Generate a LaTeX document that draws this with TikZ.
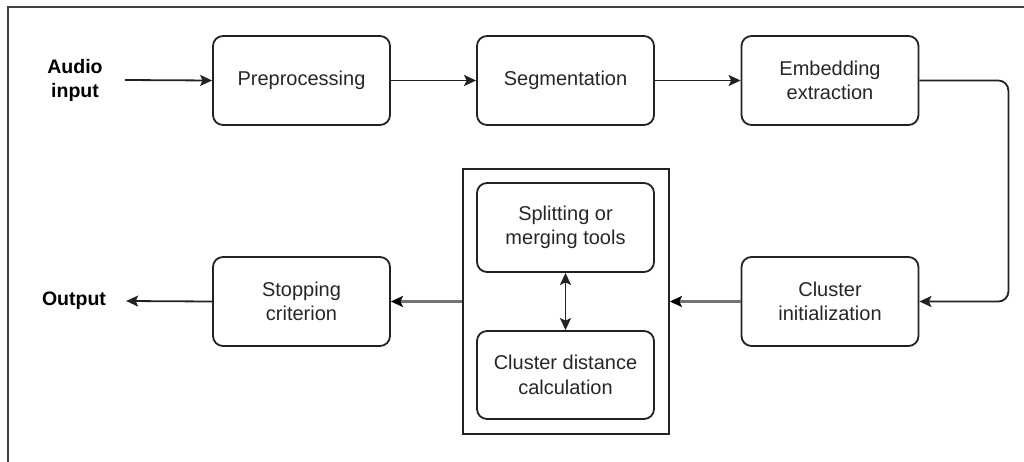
\documentclass[tikz,border=0pt]{standalone}
\usepackage{fontspec}
\setmainfont{Liberation Sans}
\usetikzlibrary{arrows.meta}
\definecolor{txt}{HTML}{262626}
\definecolor{ln}{HTML}{222222}
\tikzset{
  box/.style={draw=ln, line width=1.8pt, rounded corners=10pt, minimum width=177pt, minimum height=89pt,
    align=center, inner sep=2pt, text=txt, font=\fontsize{20}{24.5}\selectfont},
  lbl/.style={align=center, inner sep=0pt, text=black, font=\bfseries\fontsize{19.5}{24}\selectfont},
  arr/.style={draw=ln, line width=1.8pt, -{Stealth[length=12pt,width=11pt,inset=2.5pt]}},
  garr/.style={draw=black!55, line width=2.2pt, -{Stealth[length=12pt,width=11pt,inset=2.5pt,black]}},
  darr/.style={draw=ln, line width=1.8pt, {Stealth[length=12pt,width=11pt,inset=2.5pt]}-{Stealth[length=12pt,width=11pt,inset=2.5pt]}},
  frame/.style={draw=ln, line width=1.8pt}
}
\begin{document}
\begin{tikzpicture}[x=1pt,y=-1pt]
\useasboundingbox (0,0) rectangle (1024,461);
\begin{scope}
  \clip (0,0) rectangle (1024,461);
  \draw[draw=black!75, line width=1.6pt] (8,7) rectangle (1060,500);
\end{scope}

\node[lbl] (audio) at (75,80) {Audio\\input};
\node[lbl] (out) at (74,301) {Output};

\node[box] (pre) at (301.5,80.5) {Preprocessing};
\node[box] (seg) at (565.5,80.5) {Segmentation};
\node[box] (emb) at (830,80.5) {Embedding\\extraction};
\node[box] (init) at (830,301.5) {Cluster\\initialization};
\node[box] (stop) at (301.5,301.5) {Stopping\\criterion};

\node[frame, minimum width=206pt, minimum height=265pt, inner sep=0pt] (grp) at (566,301.5) {};
\node[box] (split) at (565.5,227.5) {Splitting or\\merging tools};
\node[box, minimum height=88pt] (dist) at (565.5,375) {Cluster distance\\calculation};

\draw[arr] ([xshift=22pt]audio.east) -- (pre.west);
\draw[arr] (pre.east) -- (seg.west);
\draw[arr] (seg.east) -- (emb.west);
\draw[arr, rounded corners=10pt] (emb.east) -- ++(89,0) |- (init.east);
\draw[garr] (init.west) -- (grp.east);
\draw[garr] (grp.west) -- (stop.east);
\draw[arr] (stop.west) -- ([xshift=20pt]out.east);
\draw[darr] (split.south) -- (dist.north);
\end{tikzpicture}
\end{document}
